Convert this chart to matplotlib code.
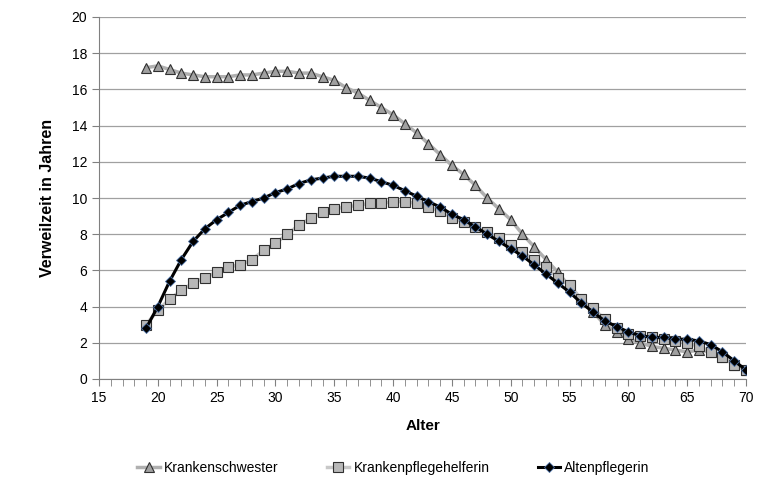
import matplotlib
matplotlib.use("Agg")
import matplotlib.pyplot as plt

ages = list(range(19, 71))
schwester = [17.2,17.3,17.1,16.9,16.8,16.7,16.7,16.7,16.8,16.8,16.9,17.0,17.0,16.9,16.9,16.7,16.5,16.1,15.8,15.4,15.0,14.6,14.1,13.6,13.0,12.4,11.8,11.3,10.7,10.0,9.4,8.8,8.0,7.3,6.6,5.9,5.1,4.4,3.7,3.0,2.6,2.2,2.0,1.8,1.7,1.6,1.5,1.6,1.5,1.2,0.8,0.5]
helferin = [3.0,3.8,4.4,4.9,5.3,5.6,5.9,6.2,6.3,6.6,7.1,7.5,8.0,8.5,8.9,9.2,9.4,9.5,9.6,9.7,9.7,9.8,9.8,9.7,9.5,9.3,8.9,8.7,8.4,8.1,7.8,7.4,7.0,6.6,6.2,5.6,5.2,4.4,3.9,3.3,2.8,2.5,2.4,2.3,2.2,2.1,2.0,1.8,1.5,1.2,0.8,0.5]
alten = [2.8,4.0,5.4,6.6,7.6,8.3,8.8,9.2,9.6,9.8,10.0,10.3,10.5,10.8,11.0,11.1,11.2,11.2,11.2,11.1,10.9,10.7,10.4,10.1,9.8,9.5,9.1,8.8,8.4,8.0,7.6,7.2,6.8,6.3,5.8,5.3,4.8,4.2,3.7,3.2,2.9,2.6,2.4,2.3,2.3,2.2,2.2,2.1,1.9,1.5,1.0,0.5]

plt.rcParams['font.family'] = ['Liberation Sans', 'DejaVu Sans']
fig = plt.figure(figsize=(7.57, 4.91), dpi=100)
ax = fig.add_axes([99/757, 1-379/491, 647/757, 362/491])

ax.plot(ages, schwester, color='#b0b0b0', lw=2.5, marker='^', ms=7.5, mfc='#a0a0a0', mec='#303030', mew=0.8, label='Krankenschwester')
ax.plot(ages, helferin, color='#c8c8c8', lw=2.5, marker='s', ms=6.5, mfc='#b8b8b8', mec='#303030', mew=0.8, label='Krankenpflegehelferin')
ax.plot(ages, alten, color='black', lw=2.2, marker='D', ms=5.5, mfc='black', mec='#4a6fa5', mew=0.6, label='Altenpflegerin')

ax.set_xlim(15, 70)
ax.set_ylim(0, 20)
ax.set_xticks(range(15, 71, 5))
ax.set_xticks(range(15, 71), minor=True)
ax.set_yticks(range(0, 21, 2))
ax.tick_params(axis='x', which='both', direction='out', length=5, color='#808080', labelsize=10)
ax.tick_params(axis='y', direction='out', length=5, color='#808080', labelsize=10)
ax.grid(axis='y', color='#a0a0a0', lw=0.9)
ax.set_axisbelow(True)
for s in ['top', 'right']:
    ax.spines[s].set_visible(False)
for s in ['left', 'bottom']:
    ax.spines[s].set_color('#808080')
ax.set_xlabel('Alter', fontsize=11, fontweight='bold', labelpad=10)
ax.set_ylabel('Verweilzeit in Jahren', fontsize=11.5, fontweight='bold', labelpad=12)
fig.legend(loc='center', bbox_to_anchor=(0.52, 1-468/491), ncol=3, frameon=False, fontsize=10, handlelength=1.6, handletextpad=0.3, columnspacing=3.5)
fig.savefig('out.png', dpi=100)
